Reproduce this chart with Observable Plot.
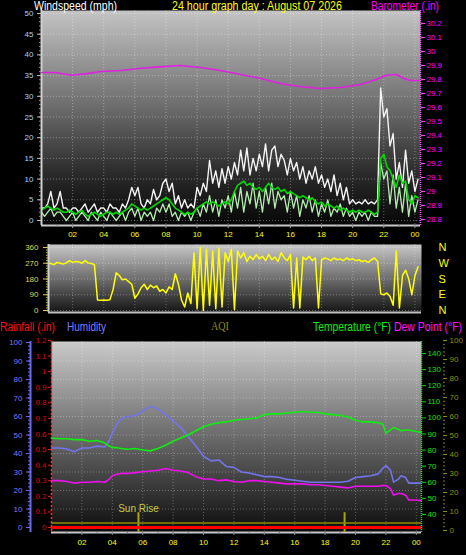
<!DOCTYPE html>
<html><head><meta charset="utf-8">
<script src="https://cdn.jsdelivr.net/npm/d3@7"></script>
<script src="https://cdn.jsdelivr.net/npm/@observablehq/plot@0.6"></script>
<style>
html,body{margin:0;padding:0;background:#000;}
#root{position:relative;width:466px;height:555px;background:#000;overflow:hidden;}
.t{position:absolute;white-space:nowrap;transform-origin:0 0;}
</style></head><body><div id="root"></div>
<script>
// ---------------- DATA ----------------
const titleText = "24 hour graph day : August 07 2026";
// wind samples every 0.2 h starting at 00:00
const windStart = 0, windStep = 0.2;
const windGust = [
  3, 3, 4, 7, 3, 4, 7, 3, 3, 2,
  3, 3, 2, 3, 4, 2, 3, 4, 2, 3,
  3, 2, 4, 3, 3, 2, 4, 3, 5, 8,
  6, 8, 4, 3, 5, 4, 7.5, 5, 6, 9,
  10, 7, 9, 4, 6, 3, 5, 3, 4, 3,
  8, 6, 9, 7, 14.5, 9, 12, 8, 12.5, 9,
  13, 10, 14, 11, 17, 12, 17.5, 11, 15, 12,
  16, 13, 18.5, 12, 17, 18, 13, 16, 14.5, 11,
  15, 12, 14, 10, 13, 9, 12, 10, 13, 9,
  11, 8, 10, 7, 11, 6, 9, 5, 8, 4,
  5, 4, 4.5, 4, 5, 4, 4.5, 4, 5, 32,
  25, 27, 18, 21, 10, 14, 8, 17, 9, 12,
  7, 10
];
const windAvg = [
  2, 1, 2, 3, 1, 2, 2, 1, 0, 1,
  2, 0, 1, 2, 1, 0, 2, 1, 0, 2,
  1, 0, 2, 1, 0, 1, 2, 0, 2, 3,
  1, 3, 0, 2, 1, 2, 0, 3, 2, 4,
  2, 4, 1, 2, 0, 2, 1, 2, 0, 2,
  3, 1, 4, 2, 6, 2, 5, 1, 5, 3,
  6, 2, 7, 3, 8, 2, 7, 4, 9, 3,
  7, 2, 8, 4, 9, 3, 7, 5, 6, 2,
  7, 3, 6, 1, 5, 3, 6, 2, 5, 1,
  4, 2, 5, 1, 3, 2, 4, 1, 3, 1,
  2, 0, 2, 1, 2, 0, 2, 1, 1, 14,
  10, 12, 4, 11, 3, 8, 2, 9, 1, 6,
  2, 5
];
const windSmooth = [
  2.5, 3, 3.5, 3, 2.5, 3, 2.5, 2, 2, 2.5,
  2, 1.5, 2, 2.5, 1.5, 1, 1.5, 2, 1.5, 1,
  1.5, 2, 2, 1.5, 2, 1.5, 2, 2.5, 3, 4,
  3.5, 3, 2.5, 3, 2.5, 3, 3.5, 4, 4.5, 5,
  5.5, 5, 4, 3, 2.5, 2, 1.5, 2, 1.5, 2,
  3, 3.5, 4, 4.5, 4, 4.5, 4, 3.5, 4, 4.5,
  4, 5, 7, 8.5, 9, 9.5, 8.5, 9, 8, 7.5,
  8, 7, 8, 9, 8, 7.5, 8, 7, 7.5, 6.5,
  7, 6.5, 6, 5.5, 6, 5.5, 5, 5.5, 4.5, 4,
  4.5, 3.5, 4, 3.5, 3, 3.5, 2.5, 3, 2.5, 2,
  2.5, 2, 2.5, 2, 2, 2.5, 2, 1.5, 2, 15,
  16, 13, 12, 10, 8, 11, 9, 9.5, 5, 4,
  6, 5.5
];
const windDir = [
  265, 262, 270, 268, 262, 275, 270, 265, 272, 285,
  275, 280, 278, 270, 285, 272, 268, 262, 60, 58,
  60, 58, 62, 120, 215, 200, 175, 180, 165, 150,
  70, 95, 130, 150, 120, 145, 130, 140, 110, 120,
  100, 135, 120, 210, 150, 60, 20, 100, 40, 330,
  10, 360, 0, 350, 30, 340, 10, 355, 20, 330,
  280, 350, 5, 340, 300, 330, 280, 310, 290, 320,
  295, 310, 285, 320, 290, 305, 280, 330, 300, 285,
  320, 15, 300, 15, 305, 290, 310, 285, 300, 15,
  290, 300, 295, 285, 300, 290, 295, 285, 300, 290,
  295, 285, 290, 280, 285, 275, 290, 300, 280, 95,
  90, 100, 80, 30, 340, 15, 200, 230, 180, 90,
  200, 250
];
const baroHours = [0, 0.9, 1.9, 2.8, 3.8, 5.1, 6.4, 7.6, 8.9, 10.2, 11.5, 12.8, 14.1, 15.4, 16.6, 17.9, 19.2, 20.5, 21.5, 22.1, 22.8, 23.3, 23.7, 24.3];
const baroInHg  = [29.85, 29.85, 29.83, 29.84, 29.857, 29.864, 29.88, 29.89, 29.90, 29.886, 29.864, 29.836, 29.807, 29.77, 29.75, 29.736, 29.743, 29.764, 29.80, 29.829, 29.836, 29.807, 29.793, 29.793];

const climateHours = [0, 0.5, 1, 1.5, 2, 2.5, 3, 3.5, 3.8, 4, 4.3, 4.6, 5, 5.5, 6, 6.5, 7, 7.5, 8, 8.5, 9, 9.5, 10, 10.5, 11, 11.5, 12, 12.5, 13, 13.5, 14, 14.5, 15, 15.5, 16, 16.5, 17, 17.5, 18, 18.5, 19, 19.5, 20, 20.5, 21, 21.5, 21.8, 22, 22.3, 22.5, 22.8, 23, 23.3, 23.5, 24, 24.3];
const temperature = [87.5, 87, 87, 86.5, 86.5, 85.5, 86, 84.5, 82.5, 81.5, 81.5, 81, 80.5, 81, 80, 79.5, 81, 83, 85.5, 87.5, 89.5, 92, 94.5, 96, 97, 97.5, 98.5, 99, 99.5, 100, 102, 102.5, 102.5, 103, 103.5, 104, 103.5, 103.5, 102.5, 102, 101.5, 100.5, 98.5, 97.5, 97.5, 97, 96, 90.5, 92.5, 94, 93, 92, 92.5, 92.5, 91.5, 91];
const humidity    = [43, 43, 42.5, 41, 43, 43, 44, 43.5, 47, 51, 56, 59, 60, 60.5, 63, 65.5, 64, 61, 57.5, 54, 49, 44, 38.5, 36, 36.5, 33, 32.5, 30, 29.5, 28.5, 27.5, 27.5, 27, 26, 25.5, 25, 24.5, 24.5, 24.5, 24.5, 24.5, 25, 27, 27.5, 28, 29, 32, 33.5, 31, 24.5, 26, 28, 27, 24, 24, 24];
const dewPoint    = [61, 61, 60.5, 59.5, 60, 60, 60.5, 60, 62, 64, 65, 65.5, 65.5, 66, 66.5, 67, 67.5, 68.5, 67.5, 67, 66, 63.5, 62, 62, 61, 61.5, 60.5, 60, 61, 61, 60.5, 60, 59.5, 59, 59, 59, 58.5, 58.5, 58, 57.5, 57, 56.5, 57.5, 57.5, 57.5, 57.5, 58, 58, 56, 52, 53, 53, 52, 49, 49, 48.5];
const rainTotal = 0;      // inches
const aqiNow = 4;         // AQI
const sunRise = 5.72, sunSet = 19.28;   // hours
const sunRiseLabel = "Sun Rise";

// tick values / labels
const hourTicks = [2, 4, 6, 8, 10, 12, 14, 16, 18, 20, 22, 24];
const windTicks = [0, 5, 10, 15, 20, 25, 30, 35, 40, 45, 50];
const baroTicks = [28.8, 28.9, 29.0, 29.1, 29.2, 29.3, 29.4, 29.5, 29.6, 29.7, 29.8, 29.9, 30.0, 30.1, 30.2];
const dirTicks = [0, 90, 180, 270, 360];
const compassLabels = ["N", "E", "S", "W", "N"];
const humTicks = [0, 10, 20, 30, 40, 50, 60, 70, 80, 90, 100];
const rainTicks = [0, 0.1, 0.2, 0.3, 0.4, 0.5, 0.6, 0.7, 0.8, 0.9, 1.0, 1.1, 1.2];
const tempTicks = [40, 50, 60, 70, 80, 90, 100, 110, 120, 130, 140];
const aqiTicks = [0, 10, 20, 30, 40, 50, 60, 70, 80, 90, 100];
const headerItems = [
  {text: "Windspeed (mph)", color: "#ffffff", x: 34, w: 83},
  {text: titleText, color: "#ffff00", x: 172, w: 170},
  {text: "Barometer (.in)", color: "#ff00ff", x: 371, w: 68}
];
const legendItems = [
  {text: "Rainfall (.in)", color: "#ff1010", x: 0, w: 55},
  {text: "Humidity", color: "#7c7cff", x: 67, w: 39},
  {text: "Temperature (°F)", color: "#10f010", x: 313, w: 78},
  {text: "Dew Point (°F)", color: "#ff10ff", x: 394, w: 68}
];

// ---------------- BUILD ----------------
const root = document.getElementById("root");
const FONT = '"Liberation Sans", Arial, Helvetica, sans-serif';
const SERIF = '"Liberation Serif", "Times New Roman", serif';
const fmtHour = d => String(Math.round(d) % 24).padStart(2, "0");
const fmt1 = d => String(+(+d).toFixed(1));

const windRows = windGust.map((g, i) => ({h: windStart + i * windStep, gust: g, avg: windAvg[i], smooth: windSmooth[i], dir: windDir[i]}));
const baroRows = baroHours.map((h, i) => ({h, p: baroInHg[i]}));
const climRows = climateHours.map((h, i) => ({h, t: temperature[i], rh: humidity[i], dp: dewPoint[i]}));

function style() { return {background: "transparent", fontFamily: FONT, fontSize: "8px", overflow: "visible", color: "#fff"}; }
function mount(svg, top) {
  svg.style.position = "absolute"; svg.style.left = "0px"; svg.style.top = top + "px";
  root.appendChild(svg); return svg;
}
function gradient(svg, id, stops) {
  const defs = d3.select(svg).insert("defs", ":first-child");
  const lg = defs.append("linearGradient").attr("id", id).attr("x1", 0).attr("y1", 0).attr("x2", 0).attr("y2", 1);
  stops.forEach(([o, c]) => lg.append("stop").attr("offset", o).attr("stop-color", c));
}
function text(str, x, baseline, color, size, family, targetW) {
  const d = document.createElement("div");
  d.className = "t"; d.textContent = str;
  Object.assign(d.style, {left: x + "px", top: (baseline - 0.8465 * size) + "px", color, fontSize: size + "px", lineHeight: size + "px", fontFamily: family});
  root.appendChild(d);
  if (targetW) {
    const w = d.getBoundingClientRect().width;
    if (w > 0) d.style.transform = `scaleX(${targetW / w})`;
  }
}

// ---- Panel A: wind speed + barometer ----
const A = {width: 466, height: 242, marginTop: 10, marginBottom: 17, marginLeft: 41, marginRight: 46};
const xA = [0, 24.36];
const windDomain = [-1.21, 50.72];
const baroDomain = [28.757, 30.293];
const windPlot = Plot.plot({
  ...A, style: style(),
  x: {domain: xA, axis: null}, y: {domain: windDomain, axis: null},
  marks: [
    Plot.frame({fill: "url(#gradA)", stroke: null}),
    Plot.gridY(windTicks, {stroke: "#ffffff", strokeOpacity: 0.35, strokeDasharray: "1,2"}),
    Plot.gridX(hourTicks, {stroke: "#ffffff", strokeOpacity: 0.35, strokeDasharray: "1,2"}),
    Plot.line(windRows, {x: "h", y: "gust", stroke: "#f4f4f4", strokeWidth: 1.4, clip: true}),
    Plot.line(windRows, {x: "h", y: "avg", stroke: "#b4ecb0", strokeWidth: 1.3, clip: true}),
    Plot.line(windRows, {x: "h", y: "smooth", stroke: "#00d800", strokeWidth: 1.6, clip: true}),
    Plot.ruleX([xA[0]], {stroke: "#d0d0d0", strokeWidth: 2}),
    Plot.ruleY([windDomain[0]], {stroke: "#c8c8c8", strokeWidth: 2}),
    Plot.axisY(d3.range(0, 51, 1), {anchor: "left", tickSize: 2, tickFormat: () => "", stroke: "#909090", label: null}),
    Plot.axisY(windTicks, {anchor: "left", tickSize: 4, tickPadding: 4, stroke: "#c0c0c0", fill: "#a8d0ff", fontSize: 8, label: null}),
    Plot.axisX(d3.range(1, 25, 1), {anchor: "bottom", tickSize: 2, tickFormat: () => "", stroke: "#808080", label: null}),
    Plot.axisX(hourTicks, {anchor: "bottom", tickSize: 3, tickPadding: 3, stroke: "#a0a0a0", fill: "#ffff00", fontSize: 8, tickFormat: fmtHour, label: null})
  ]
});
gradient(windPlot, "gradA", [["0%", "#c4c4c4"], ["45%", "#6c6c6c"], ["75%", "#2c2c2c"], ["100%", "#060606"]]);
mount(windPlot, 0);

const baroPlot = Plot.plot({
  ...A, style: style(),
  x: {domain: xA, axis: null}, y: {domain: baroDomain, axis: null},
  marks: [
    Plot.line(baroRows, {x: "h", y: "p", stroke: "#e020e0", strokeWidth: 1.6}),
    Plot.ruleX([xA[1]], {stroke: "#ff50ff", strokeWidth: 1.5, strokeDasharray: "1,1"}),
    Plot.axisY(baroTicks, {anchor: "right", tickSize: 4, tickPadding: 2, stroke: "#ff40ff", fill: "#ff00ff", fontSize: 8, tickFormat: fmt1, label: null})
  ]
});
mount(baroPlot, 0);

// ---- Panel B: wind direction ----
const xB = [0.45, 24.42];
const dirDomain = [-11.4, 377];
const dirPlot = Plot.plot({
  width: 466, height: 76, marginTop: 4, marginBottom: 4, marginLeft: 48, marginRight: 45,
  style: style(),
  x: {domain: xB, axis: null}, y: {domain: dirDomain, axis: null},
  marks: [
    Plot.frame({fill: "url(#gradB)", stroke: null}),
    Plot.gridY(dirTicks, {stroke: "#ffffff", strokeOpacity: 0.35, strokeDasharray: "1,2"}),
    Plot.gridX(hourTicks, {stroke: "#ffffff", strokeOpacity: 0.3, strokeDasharray: "1,2"}),
    Plot.line(windRows, {x: "h", y: "dir", stroke: "#ffff00", strokeWidth: 1.5, clip: true}),
    Plot.ruleX([xB[0]], {stroke: "#d0d0d0", strokeWidth: 2}),
    Plot.ruleY([dirDomain[0]], {stroke: "#c0c0c0", strokeWidth: 2}),
    Plot.axisY(d3.range(0, 361, 15), {anchor: "left", tickSize: 2, tickFormat: () => "", stroke: "#b0b040", label: null}),
    Plot.axisY(dirTicks, {anchor: "left", tickSize: 5, tickPadding: 5, stroke: "#d0d060", fill: "#d8d850", fontSize: 8, label: null}),
    Plot.axisY(dirTicks, {anchor: "right", tickSize: 0, tickPadding: 17, fill: "#ffff00", fontSize: 11, tickFormat: (d, i) => compassLabels[i], label: null})
  ]
});
gradient(dirPlot, "gradB", [["0%", "#c8c8c8"], ["100%", "#141414"]]);
mount(dirPlot, 240);

// ---- Panel C: rainfall / humidity / AQI / temperature / dew point ----
const C = {width: 466, height: 219, marginTop: 5, marginBottom: 23, marginLeft: 51, marginRight: 45};
const xC = [0, 24.34];
const humDomain = [-2.7, 100.54];
const rainDomain = [-0.032, 1.1936];
const tempDomain = [28.8, 147.45];
const aqiDomain = [-1.05, 99.5];
const topC = 336;

const humPlot = Plot.plot({
  ...C, style: style(),
  x: {domain: xC, axis: null}, y: {domain: humDomain, axis: null},
  marks: [
    Plot.frame({fill: "url(#gradC)", stroke: null}),
    Plot.gridY(humTicks, {stroke: "#ffffff", strokeOpacity: 0.3, strokeDasharray: "1,2"}),
    Plot.gridX(hourTicks, {stroke: "#ffffff", strokeOpacity: 0.3, strokeDasharray: "1,2"}),
    Plot.ruleY([humDomain[0]], {stroke: "#c8c8c8", strokeWidth: 2}),
    Plot.ruleX([sunRise, sunSet], {y1: humDomain[0], y2: 8, stroke: "#a8a800", strokeWidth: 2}),
    Plot.text([sunRise], {x: d => d, y: 8, text: () => sunRiseLabel, lineAnchor: "bottom", dy: -1, fill: "#c8c840", fontSize: 10, fontFamily: FONT}),
    Plot.line(climRows, {x: "h", y: "rh", stroke: "#7474ec", strokeWidth: 1.6}),
    Plot.ruleX([xC[0]], {dx: -21, stroke: "#6a6af0", strokeWidth: 2}),
    Plot.axisY(d3.range(0, 101, 2), {anchor: "left", dx: -21, tickSize: 2, tickFormat: () => "", stroke: "#6a6af0", label: null}),
    Plot.axisY(humTicks, {anchor: "left", dx: -21, tickSize: 4, tickPadding: 4, stroke: "#6a6af0", fill: "#7c7cff", fontSize: 8, label: null}),
    Plot.axisX(d3.range(1, 25, 1), {anchor: "bottom", tickSize: 2, tickFormat: () => "", stroke: "#707070", label: null}),
    Plot.axisX(hourTicks, {anchor: "bottom", tickSize: 3, tickPadding: 4, stroke: "#909090", fill: "#ffff00", fontSize: 8, tickFormat: fmtHour, label: null})
  ]
});
gradient(humPlot, "gradC", [["0%", "#cacaca"], ["50%", "#6a6a6a"], ["100%", "#0c0c0c"]]);
mount(humPlot, topC);

const rainPlot = Plot.plot({
  ...C, style: style(),
  x: {domain: xC, axis: null}, y: {domain: rainDomain, axis: null},
  marks: [
    Plot.ruleY([rainTotal], {stroke: "#ff0000", strokeWidth: 3}),
    Plot.ruleX([xC[0]], {stroke: "#ff3030", strokeWidth: 1.5, strokeDasharray: "2,2"}),
    Plot.axisY(rainTicks, {anchor: "left", tickSize: 3, tickPadding: 2, stroke: "#e02020", fill: "#e00000", fontSize: 8, tickFormat: fmt1, label: null})
  ]
});
mount(rainPlot, topC);

const aqiPlot = Plot.plot({
  ...C, style: style(),
  x: {domain: xC, axis: null}, y: {domain: aqiDomain, axis: null},
  marks: [
    Plot.ruleY([aqiNow], {stroke: "#8c8c00", strokeWidth: 1.5}),
    Plot.axisY(d3.range(0, 101, 2), {anchor: "right", dx: 21, tickSize: 2, tickFormat: () => "", stroke: "#808000", label: null}),
    Plot.axisY(aqiTicks, {anchor: "right", dx: 21, tickSize: 4, tickPadding: 3, stroke: "#909000", fill: "#909000", fontSize: 8, label: null})
  ]
});
mount(aqiPlot, topC);

const tempPlot = Plot.plot({
  ...C, style: style(),
  x: {domain: xC, axis: null}, y: {domain: tempDomain, axis: null},
  marks: [
    Plot.line(climRows, {x: "h", y: "dp", stroke: "#ee10ee", strokeWidth: 1.6}),
    Plot.line(climRows, {x: "h", y: "t", stroke: "#10ee10", strokeWidth: 1.6}),
    Plot.ruleX([xC[1]], {stroke: "#20e020", strokeWidth: 1.5, strokeDasharray: "1,1"}),
    Plot.axisY(tempTicks, {anchor: "right", tickSize: 4, tickPadding: 2, stroke: "#10d010", fill: "#10e010", fontSize: 8, label: null})
  ]
});
mount(tempPlot, topC);

// ---- titles and legend ----
headerItems.forEach(d => text(d.text, d.x, 10.5, d.color, 12, FONT, d.w));
legendItems.forEach(d => text(d.text, d.x, 331, d.color, 12, FONT, d.w));
text("AQI", 211, 331, "#8c8c10", 11.5, SERIF, 18);
</script>
</body></html>
